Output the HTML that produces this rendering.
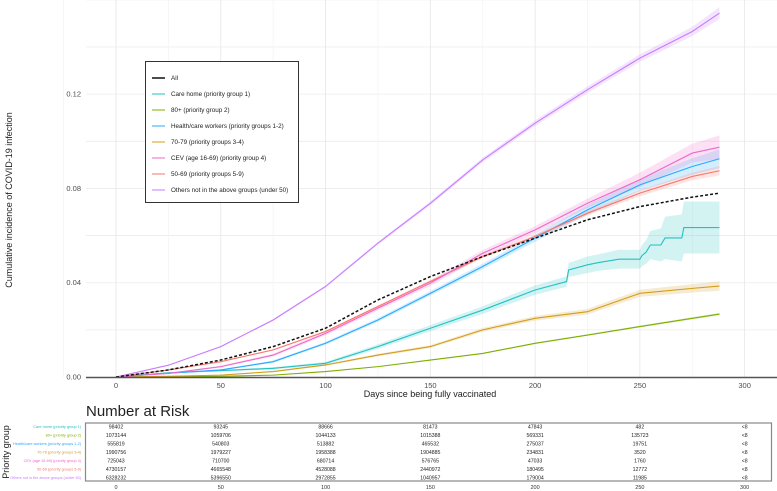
<!DOCTYPE html>
<html><head><meta charset="utf-8"><style>
body{margin:0;background:#fff;}
svg{display:block;font-family:"Liberation Sans",Arial,sans-serif;}
</style></head><body>
<svg id="chart" width="777" height="491" viewBox="0 0 777 491">
<g id="grid"></g>
<g id="bands"></g>
<g id="lines"></g>
<line x1="86" y1="377.5" x2="777" y2="377.5" stroke="#555" stroke-width="1.5"/>
<g id="yticks" font-size="7.5" fill="#4d4d4d" text-anchor="end"></g>
<g id="xticks" font-size="7.5" fill="#4d4d4d" text-anchor="middle"></g>
<text x="12" y="200" transform="rotate(-90 12 200)" text-anchor="middle" font-size="9" fill="#222">Cumulative incidence of COVID-19 infection</text>
<text x="430" y="397" text-anchor="middle" font-size="9" fill="#222">Days since being fully vaccinated</text>
<g>
<rect x="145.5" y="61.5" width="153" height="141" fill="#fff" stroke="#333" stroke-width="1"/>
<g id="legend-items" font-size="6.3" fill="#222"></g>
</g>
<text x="86" y="416" font-size="15" fill="#222">Number at Risk</text>
<rect x="85.5" y="423" width="686" height="58" fill="#fff" stroke="#888" stroke-width="1.2"/>
<g id="risk" font-size="5.2" fill="#222" text-anchor="middle"></g>
<text x="9" y="452" transform="rotate(-90 9 452)" text-anchor="middle" font-size="9" fill="#222">Priority group</text>
</svg>
<script>
const days = [0,25,50,75,100,125,150,175,200,225,250,275,288];
const careDays = [0,25,50,75,100,125,150,175,200,215,216,225,230,240,250,251,253,255,260,262,270,271,288];
const seriesNames = ["All","Care home (priority group 1)","80+ (priority group 2)","Health/care workers (priority groups 1-2)","70-79 (priority groups 3-4)","CEV (age 16-69) (priority group 4)","50-69 (priority groups 5-9)","Others not in the above groups (under 50)"];
const seriesColors = ["#111","#22C1C3","#7CAE00","#2AA9FF","#D39C1A","#F067C8","#F8766D","#C77CFF"];
const allVals = [0,0.003,0.0072,0.0129,0.0207,0.0327,0.0426,0.0511,0.0589,0.0667,0.0723,0.0763,0.078];
const careVals = [0,0.0018,0.0027,0.0037,0.0058,0.0129,0.0207,0.0284,0.0369,0.0405,0.0454,0.0476,0.0485,0.0500,0.0500,0.0515,0.0530,0.0560,0.0560,0.0590,0.0590,0.0634,0.0634];
const eightyVals = [0,0.0001,0.0003,0.0008,0.0023,0.0044,0.0072,0.01,0.0143,0.0178,0.0214,0.0249,0.0267];
const hcwVals = [0,0.0016,0.003,0.0065,0.0143,0.0242,0.0355,0.0469,0.0589,0.0709,0.0815,0.0893,0.0926];
const s7079Vals = [0,0.0003,0.0008,0.0023,0.0051,0.0093,0.0129,0.02,0.0249,0.0277,0.0355,0.0376,0.0386];
const cevVals = [0,0.0015,0.0044,0.0093,0.0185,0.0292,0.0398,0.0525,0.0624,0.0737,0.0837,0.095,0.0975];
const s5069Vals = [0,0.003,0.0065,0.0115,0.0193,0.0299,0.0405,0.0511,0.0596,0.0695,0.078,0.0851,0.0875];
const othersVals = [0,0.005,0.0129,0.0242,0.0384,0.0568,0.0737,0.0921,0.1077,0.1219,0.1353,0.1466,0.1544];
const allCI = [0,0,0,0,0,0,0,0,0,0,0,0,0];
const careCI = [0,0.0003,0.0004,0.0005,0.0006,0.001,0.0013,0.0016,0.002,0.0022,0.003,0.0035,0.0035,0.004,0.004,0.0045,0.005,0.006,0.007,0.009,0.01,0.011,0.011];
const eightyCI = [0,0,0,0,0.0001,0.0001,0.0002,0.0002,0.0003,0.0003,0.0004,0.0005,0.0005];
const hcwCI = [0,0.0002,0.0003,0.0005,0.0006,0.0008,0.001,0.0012,0.0015,0.002,0.0025,0.0035,0.004];
const s7079CI = [0,0.0001,0.0002,0.0003,0.0004,0.0005,0.0006,0.0008,0.001,0.0012,0.0015,0.0018,0.002];
const cevCI = [0,0.0003,0.0004,0.0006,0.0008,0.001,0.0012,0.0014,0.0016,0.002,0.003,0.004,0.005];
const s5069CI = [0,0.0001,0.0002,0.0003,0.0004,0.0005,0.0006,0.0007,0.0008,0.001,0.0013,0.0016,0.002];
const othersCI = [0,0.0002,0.0003,0.0004,0.0005,0.0006,0.0008,0.001,0.0012,0.0014,0.0016,0.002,0.0025];
const yTicks = [0,0.04,0.08,0.12];
const yTickLabels = ["0.00","0.04","0.08","0.12"];
const xTicks = [0,50,100,150,200,250,300];
const riskRowLabels = ["Care home (priority group 1)","80+ (priority group 2)","Health/care workers (priority groups 1-2)","70-79 (priority groups 3-4)","CEV (age 16-69) (priority group 4)","50-69 (priority groups 5-9)","Others not in the above groups (under 50)"];
const riskRowColors = ["#22C1C3","#7CAE00","#2AA9FF","#D39C1A","#F067C8","#F8766D","#C77CFF"];
const risk0 = ["98402","1073144","555819","1990756","725043","4730157","6328232"];
const risk50 = ["93245","1059706","540803","1979227","710700","4665548","5396550"];
const risk100 = ["88666","1044133","513882","1958388","680714","4528088","2972855"];
const risk150 = ["81473","1015388","465532","1904885","576765","2440972","1040957"];
const risk200 = ["47843","569331","275037","234831","47033","180495","179004"];
const risk250 = ["482","135723","19751","3520","1760","12772","11985"];
const risk300 = ["<8","<8","<8","<8","<8","<8","<8"];

const NS="http://www.w3.org/2000/svg";
const xs = d => 116 + d*2.0955;
const ys = v => 377 - v*2357;
function mk(tag, attrs, parent){const e=document.createElementNS(NS,tag);for(const k in attrs)e.setAttribute(k,attrs[k]);parent.appendChild(e);return e;}
const grid=document.getElementById('grid');
for(let v=0.02;v<=0.16;v+=0.02){const l=mk('line',{x1:86,x2:777,y1:ys(v),y2:ys(v),stroke:'#ececec','stroke-width':0.8},grid);

}
for(let d=-25;d<=325;d+=25){const l=mk('line',{x1:xs(d),x2:xs(d),y1:0,y2:377,stroke:d%50===0?'#e6e6e6':'#f4f4f4','stroke-width':0.8},grid);

}
const yt=document.getElementById('yticks');
yTicks.forEach((v,i)=>{const t=mk('text',{x:81,y:ys(v)+2.5},yt);t.textContent=yTickLabels[i];

});
const xt=document.getElementById('xticks');
xTicks.forEach(d=>{const t=mk('text',{x:xs(d),y:388},xt);t.textContent=d;

});
const vals=[allVals,careVals,eightyVals,hcwVals,s7079Vals,cevVals,s5069Vals,othersVals];
const cis=[allCI,careCI,eightyCI,hcwCI,s7079CI,cevCI,s5069CI,othersCI];
const dayArrs=[days,careDays,days,days,days,days,days,days];
const bands=document.getElementById('bands'),lines=document.getElementById('lines');
const order=[2,4,1,3,6,5,7,0];
order.forEach(i=>{
 const v=vals[i],c=cis[i],dd=dayArrs[i];
 if(c.some(x=>x>0)){
  let up=dd.map((d,k)=>xs(d)+','+ys(v[k]+c[k])).join(' ');
  let lo=dd.map((d,k)=>xs(d)+','+ys(Math.max(0,v[k]-c[k]))).reverse().join(' ');
  const p=mk('polygon',{points:up+' '+lo,fill:seriesColors[i],opacity:0.2},bands);
  
  
 }
 const pl=mk('polyline',{points:dd.map((d,k)=>xs(d)+','+ys(v[k])).join(' '),fill:'none',stroke:seriesColors[i],'stroke-width':i===0?1.5:1.1},lines);
 if(i===0)pl.setAttribute('stroke-dasharray','3,2');
 
 
});
const lg=document.getElementById('legend-items');
seriesNames.forEach((n,i)=>{const y=78+i*16;
 const l=mk('line',{x1:152,x2:165,y1:y,y2:y,stroke:seriesColors[i],'stroke-width':i===0?1.5:1},lg);
 
 
 const t=mk('text',{x:171,y:y+2.2},lg);t.textContent=n;
 
 });
const rk=document.getElementById('risk');
const cols=[risk0,risk50,risk100,risk150,risk200,risk250,risk300];
const rowY=[426.5,435,443.5,452,460.5,469,477.5];
riskRowLabels.forEach((n,r)=>{
 const t=mk('text',{x:81,y:rowY[r]+1.6,'text-anchor':'end','font-size':3.8,fill:riskRowColors[r]},rk);t.textContent=n;
 
 
 cols.forEach((col,c)=>{const tt=mk('text',{x:xs(xTicks[c]),y:rowY[r]+1.8},rk);tt.textContent=col[r];
  
  });
});
xTicks.forEach(d=>{const t=mk('text',{x:xs(d),y:489,'font-size':5.5,fill:'#333'},rk);t.textContent=d;
 
 });
</script>
</body></html>
